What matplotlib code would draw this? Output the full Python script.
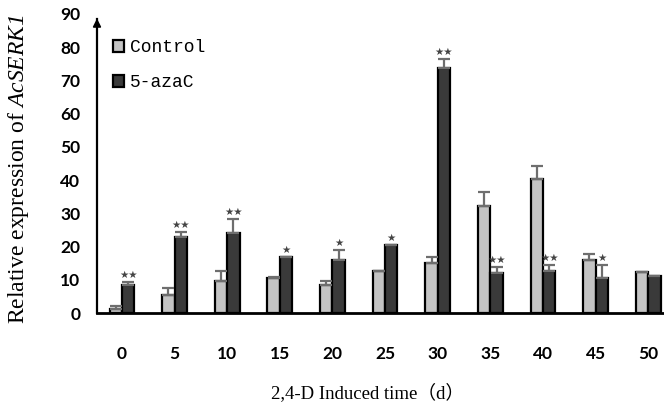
import numpy as np
import matplotlib.pyplot as plt

# Relative expression of AcSERK1 vs 2,4-D induced time
days = ['0', '5', '10', '15', '20', '25', '30', '35', '40', '45', '50']
control = [1.1, 5.4, 9.7, 10.4, 8.3, 12.6, 15.1, 32.3, 40.3, 16.0, 12.4]
control_err = [1.0, 2.0, 3.0, 0.4, 1.4, 0.0, 1.9, 4.2, 3.8, 1.9, 0.0]
aza = [8.3, 22.8, 24.2, 17.0, 16.0, 20.6, 73.7, 12.0, 12.6, 10.6, 11.2]
aza_err = [1.1, 1.7, 4.1, 0.0, 2.9, 0.0, 2.7, 1.9, 1.9, 3.9, 0.0]
aza_sig = ['**', '**', '**', '*', '*', '*', '**', '**', '**', '*', '']

plt.rcParams['mathtext.fontset'] = 'custom'
plt.rcParams['mathtext.sf'] = 'Liberation Serif:italic'
plt.rcParams['mathtext.rm'] = 'Liberation Serif'

fig = plt.figure(figsize=(6.64, 4.07), dpi=100)
ax = fig.add_axes([97 / 664, 94 / 407, 567 / 664, 299 / 407])

x = np.arange(len(days))
w = 0.235
ax.bar(x - w / 2, control, w, color='#c4c4c4', edgecolor='black',
       linewidth=1.6, label='Control', zorder=2)
ax.bar(x + w / 2, aza, w, color='#3a3a3a', edgecolor='black',
       linewidth=1.6, label='5-azaC', zorder=2)
ax.errorbar(x - w / 2, control, yerr=[np.zeros(len(x)), control_err], fmt='none',
            ecolor='#6e6e6e', elinewidth=1.6, capsize=4.5, capthick=1.6, zorder=3)
ax.errorbar(x + w / 2, aza, yerr=[np.zeros(len(x)), aza_err], fmt='none',
            ecolor='#6e6e6e', elinewidth=1.6, capsize=4.5, capthick=1.6, zorder=3)

for i in range(len(x)):
    if aza_sig[i]:
        ax.text(x[i] + w / 2, aza[i] + aza_err[i] + 0.6, aza_sig[i].replace('*', '★'),
                ha='center', va='bottom', fontsize=7.5, color='#444444',
                family=['DejaVu Sans'])

ax.set_xlim(-0.475, 10.3)
ax.set_ylim(0, 90)
ax.set_yticks(range(0, 91, 10))
ax.set_xticks(x)
ax.set_xticklabels(days)
ax.tick_params(length=0, labelsize=12.5)
ax.tick_params(axis='y', pad=12)
ax.tick_params(axis='x', pad=24)
for lab in ax.get_xticklabels() + ax.get_yticklabels():
    lab.set_family('Lato')
    lab.set_fontweight('bold')

for s in ['top', 'right']:
    ax.spines[s].set_visible(False)
ax.spines['left'].set_linewidth(1.6)
ax.spines['bottom'].set_linewidth(2)
ax.spines['left'].set_bounds(0, 88.5)
ax.annotate('', xy=(0, 89.5), xytext=(0, 86), xycoords=('axes fraction', 'data'),
            arrowprops=dict(arrowstyle='-|>', color='black', lw=1.2,
                            mutation_scale=12), annotation_clip=False)

ax.set_ylabel('Relative expression of $\\mathsf{AcSERK1}$', fontsize=17,
              family='Liberation Serif')
ax.yaxis.set_label_coords(-66 / 567, 0.482)
ax.set_xlabel('2,4-D Induced time（d）', fontsize=13.5,
              family=['Liberation Serif', 'Noto Sans CJK SC'])
ax.xaxis.set_label_coords((368 - 97) / 567, -70 / 299)

ax.legend(loc='upper left', bbox_to_anchor=(0.0, 0.97), frameon=False,
          prop={'family': 'Liberation Mono', 'size': 13},
          handlelength=0.6, handleheight=0.6, handletextpad=0.3,
          labelspacing=1.0)

fig.savefig('out.png', dpi=100)
